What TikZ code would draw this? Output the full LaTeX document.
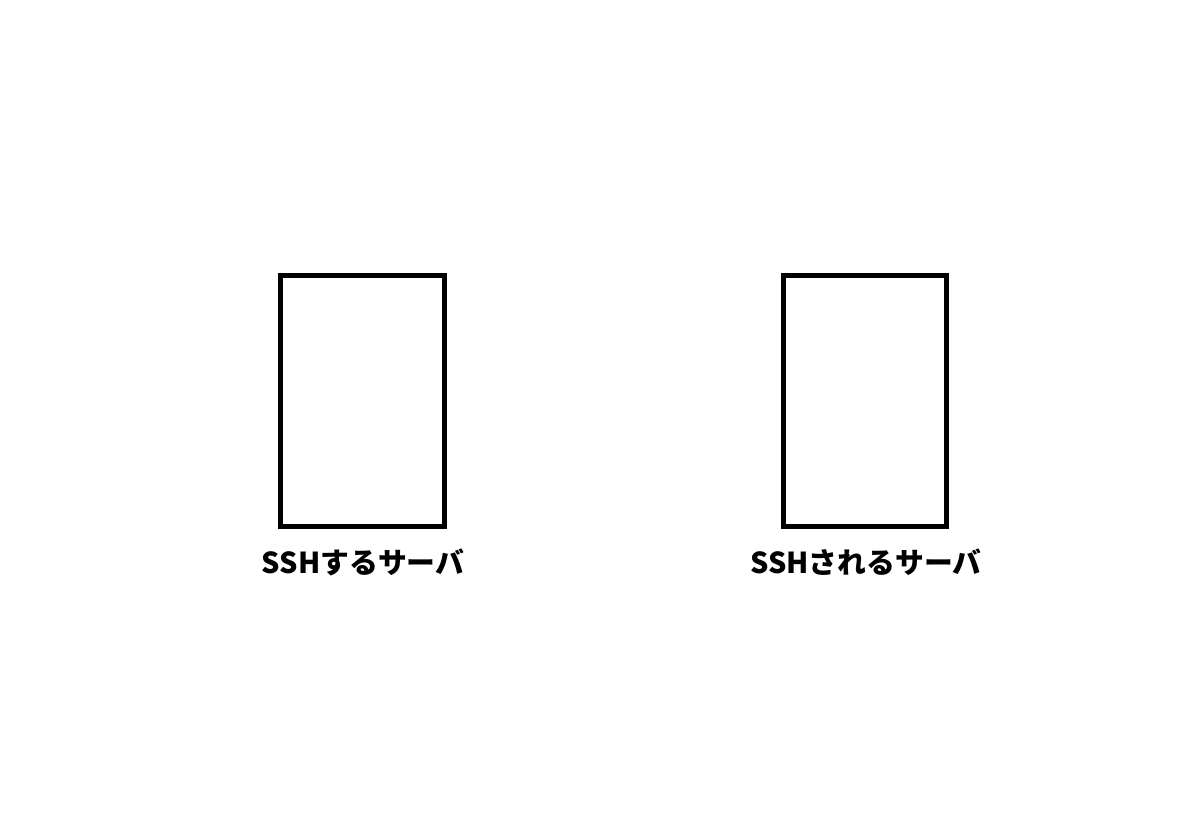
\documentclass[tikz,border=0pt]{standalone}
\usepackage{fontspec}
\newfontfamily\cjk{Noto Sans CJK JP}
\usepackage{tikz}

\begin{document}
\begin{tikzpicture}[x=0.025cm,y=-0.025cm,
    server/.style={draw,line width=3.6pt,minimum width=4.09cm,minimum height=6.26cm,inner sep=0pt},
    label/.style={anchor=base,font=\cjk\bfseries\fontsize{20.5}{24}\selectfont}]

    \useasboundingbox (0,0) rectangle (1200,828);

    \node[server]         (client) at (362.3, 400.8)        {};
    \node[server]         (host)   at (865, 400.8)          {};

    \node[label]          (clientlabel) at (363, 573)      {SSHするサーバ};
    \node[label]          (hostlabel)   at (866, 573)      {SSHされるサーバ};
  \end{tikzpicture}
\end{document}
